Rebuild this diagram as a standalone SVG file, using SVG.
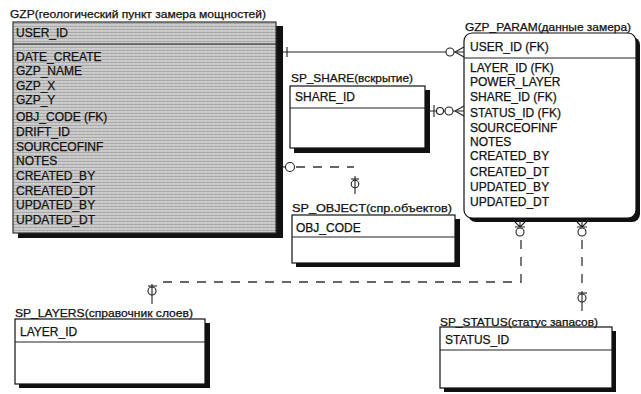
<svg xmlns="http://www.w3.org/2000/svg" width="641" height="394" viewBox="0 0 641 394">
<defs>
<pattern id="hatch" width="4" height="3" patternUnits="userSpaceOnUse">
<rect width="4" height="3" fill="#c9c9c9"/>
<rect y="2" width="4" height="1" fill="#a9a9a9"/>
<rect x="1" y="0" width="1" height="1" fill="#dadada"/>
</pattern>
</defs>
<style>
text{font-family:"Liberation Sans",Arial,sans-serif;font-size:12px;fill:#111;stroke:#111;stroke-width:0.25}
.title{font-size:11px}
.box{fill:#fff;stroke:#111;stroke-width:1.2}
.gbox{fill:url(#hatch);stroke:#333;stroke-width:1.2}
.shadow{fill:#111}
.sep{stroke:#222;stroke-width:1.2}
.ln{fill:none;stroke:#222;stroke-width:1.1}
.dash{fill:none;stroke:#333;stroke-width:1.3;stroke-dasharray:9 8}
.circ{fill:#fff;stroke:#222;stroke-width:1.1}
</style>
<rect width="641" height="394" fill="#fff"/>

<g id="GZP">
<rect class="shadow" x="18" y="26" width="265" height="212"/>
<rect class="gbox" x="13" y="22" width="263" height="211"/>
<line class="sep" x1="13" y1="44" x2="276" y2="44"/>
<text class="title" x="10" y="18" textLength="256" lengthAdjust="spacingAndGlyphs">GZP(геологический пункт замера мощностей)</text>
<text x="16" y="37">USER_ID</text>
<text x="16" y="61">DATE_CREATE</text>
<text x="16" y="75">GZP_NAME</text>
<text x="16" y="90">GZP_X</text>
<text x="16" y="104">GZP_Y</text>
<text x="16" y="121">OBJ_CODE (FK)</text>
<text x="16" y="136">DRIFT_ID</text>
<text x="16" y="151">SOURCEOFINF</text>
<text x="16" y="165">NOTES</text>
<text x="16" y="180">CREATED_BY</text>
<text x="16" y="195">CREATED_DT</text>
<text x="16" y="209">UPDATED_BY</text>
<text x="16" y="224">UPDATED_DT</text>
</g>

<g id="GZP_PARAM">
<rect class="shadow" x="468" y="37" width="172" height="185" rx="8"/>
<rect class="box" x="464" y="33" width="172" height="185" rx="8"/>
<line class="sep" x1="464" y1="58" x2="636" y2="58"/>
<text class="title" x="465" y="31" textLength="166" lengthAdjust="spacingAndGlyphs">GZP_PARAM(данные замера)</text>
<text x="470" y="51">USER_ID (FK)</text>
<text x="470" y="72">LAYER_ID (FK)</text>
<text x="470" y="86">POWER_LAYER</text>
<text x="470" y="101">SHARE_ID (FK)</text>
<text x="470" y="117">STATUS_ID (FK)</text>
<text x="470" y="132">SOURCEOFINF</text>
<text x="470" y="146">NOTES</text>
<text x="470" y="160">CREATED_BY</text>
<text x="470" y="176">CREATED_DT</text>
<text x="470" y="191">UPDATED_BY</text>
<text x="470" y="206">UPDATED_DT</text>
</g>

<g id="SP_SHARE">
<rect class="shadow" x="294" y="90" width="136" height="63"/>
<rect class="box" x="290" y="86" width="135" height="62"/>
<line class="sep" x1="290" y1="108" x2="425" y2="108"/>
<text class="title" x="291" y="82" textLength="122" lengthAdjust="spacingAndGlyphs">SP_SHARE(вскрытие)</text>
<text x="295" y="101">SHARE_ID</text>
</g>

<g id="SP_OBJECT">
<rect class="shadow" x="296" y="219" width="164" height="48"/>
<rect class="box" x="292" y="215" width="163" height="48"/>
<line class="sep" x1="292" y1="237" x2="455" y2="237"/>
<text class="title" x="292" y="212" textLength="160" lengthAdjust="spacingAndGlyphs">SP_OBJECT(спр.объектов)</text>
<text x="296" y="232">OBJ_CODE</text>
</g>

<g id="SP_LAYERS">
<rect class="shadow" x="19" y="323" width="191" height="65"/>
<rect class="box" x="15" y="319" width="190" height="65"/>
<line class="sep" x1="15" y1="342" x2="205" y2="342"/>
<text class="title" x="15" y="317" textLength="178" lengthAdjust="spacingAndGlyphs">SP_LAYERS(справочник слоев)</text>
<text x="20" y="336">LAYER_ID</text>
</g>

<g id="SP_STATUS">
<rect class="shadow" x="444" y="331" width="172" height="61"/>
<rect class="box" x="440" y="327" width="172" height="61"/>
<line class="sep" x1="440" y1="350" x2="612" y2="350"/>
<text class="title" x="440" y="326" textLength="158" lengthAdjust="spacingAndGlyphs">SP_STATUS(статус запасов)</text>
<text x="445" y="344">STATUS_ID</text>
</g>

<g id="connectors">
<line class="ln" x1="283" y1="52" x2="464" y2="52"/>
<line class="ln" x1="287" y1="47" x2="287" y2="57"/>
<circle class="circ" cx="450" cy="52" r="4"/>
<path class="ln" d="M455 52 L464 47 M455 52 L464 57"/>
<line class="ln" x1="430" y1="111" x2="464" y2="111"/>
<line class="ln" x1="434" y1="105" x2="434" y2="117"/>
<circle class="circ" cx="440" cy="111" r="3.5"/>
<circle class="circ" cx="449" cy="111" r="4"/>
<path class="ln" d="M455 111 L464 106 M455 111 L464 116"/>
<line class="ln" x1="283" y1="167" x2="286" y2="167"/>
<circle class="circ" cx="290" cy="167" r="4.5"/>
<path class="dash" d="M296 167 H354"/>
<line class="ln" x1="351" y1="179" x2="359" y2="179"/>
<circle class="circ" cx="355" cy="184" r="3.8"/>
<line class="ln" x1="355" y1="176" x2="355" y2="194"/>
<path class="ln" d="M515 222 L520 227 L525 222 M520 218 V227 M515 227 H525"/>
<circle class="circ" cx="520" cy="232" r="4"/>
<path class="dash" d="M521 240 V282 H162"/>
<line class="ln" x1="148" y1="286" x2="157" y2="286"/>
<circle class="circ" cx="152" cy="291" r="4"/>
<line class="ln" x1="152" y1="284" x2="152" y2="304"/>
<path class="ln" d="M577 222 L582 227 L587 222 M582 218 V227 M577 227 H587"/>
<circle class="circ" cx="582" cy="232" r="4"/>
<path class="dash" d="M582 240 V286"/>
<line class="ln" x1="578" y1="293" x2="587" y2="293"/>
<circle class="circ" cx="582" cy="298" r="4"/>
<line class="ln" x1="582" y1="291" x2="582" y2="311"/>
</g>
</svg>
